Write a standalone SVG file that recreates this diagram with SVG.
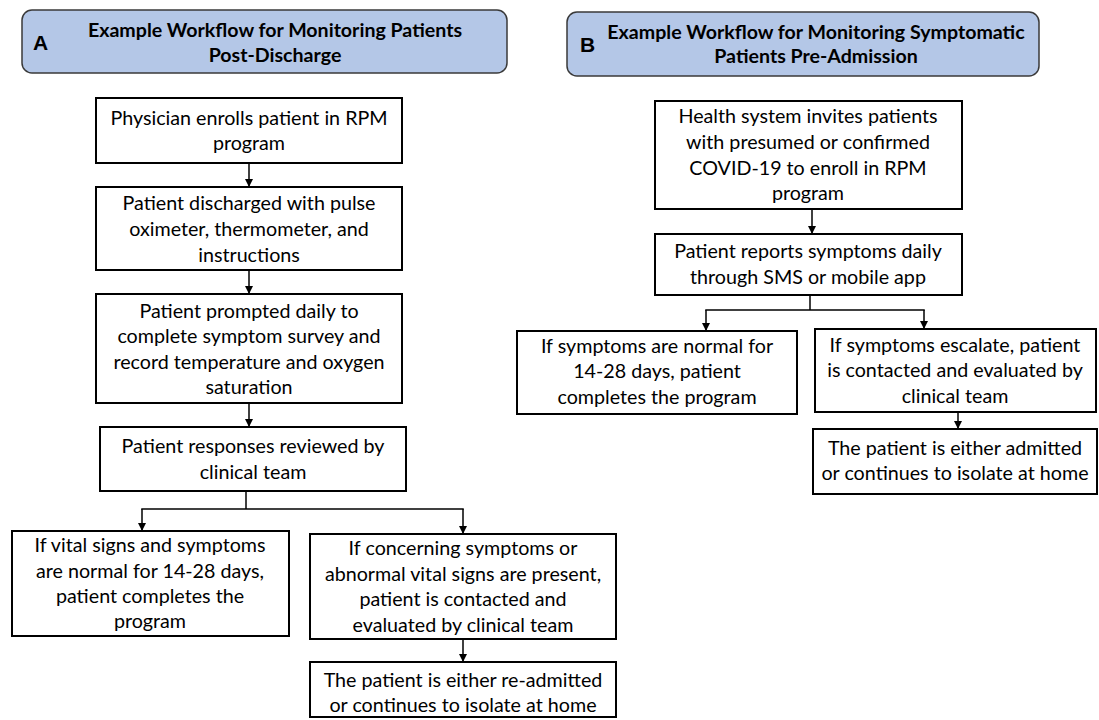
<svg xmlns="http://www.w3.org/2000/svg" width="1099" height="720" viewBox="0 0 1099 720">
<style>
  .hdr { fill: #b4c7e7; stroke: #3a3a3a; stroke-width: 1.5; }
  .box { fill: #ffffff; stroke: #000000; stroke-width: 2; }
  .t { font-family: Lato, "Open Sans", "Liberation Sans", sans-serif; font-size: 19.7px; fill: #000; text-anchor: middle; }
  .ht { font-family: Lato, "Open Sans", "Liberation Sans", sans-serif; font-size: 19.6px; font-weight: bold; fill: #000; text-anchor: middle; }
  .lab { font-family: "Liberation Sans", Arial, sans-serif; font-size: 21px; font-weight: bold; fill: #000; }
  .con { fill: none; stroke: #000; stroke-width: 1.5; }
</style>
<defs>
  <marker id="arr" markerUnits="userSpaceOnUse" markerWidth="10" markerHeight="10" refX="8" refY="4" orient="auto">
    <path d="M0,0 L8,4 L0,8 Z" fill="#000"/>
  </marker>
</defs>
<rect width="1099" height="720" fill="#ffffff"/>

<g id="headerA">
  <rect class="hdr" x="22" y="10" width="485" height="63" rx="10"/>
  <text class="lab" x="33" y="50">A</text>
  <text class="ht" x="275" y="37">Example Workflow for Monitoring Patients</text>
  <text class="ht" x="275" y="62">Post-Discharge</text>
</g>
<g id="headerB">
  <rect class="hdr" x="567" y="12" width="472" height="64" rx="10"/>
  <text class="lab" x="580" y="52">B</text>
  <text class="ht" x="816" y="39">Example Workflow for Monitoring Symptomatic</text>
  <text class="ht" x="816" y="63">Patients Pre-Admission</text>
</g>

<g id="connectors">
  <line class="con" x1="249" y1="163" x2="249" y2="187" marker-end="url(#arr)"/>
  <line class="con" x1="249" y1="270" x2="249" y2="294" marker-end="url(#arr)"/>
  <line class="con" x1="249" y1="403" x2="249" y2="427" marker-end="url(#arr)"/>
  <line class="con" x1="246" y1="491" x2="246" y2="509"/>
  <line class="con" x1="141.25" y1="509" x2="463.75" y2="509"/>
  <line class="con" x1="142" y1="509" x2="142" y2="531" marker-end="url(#arr)"/>
  <line class="con" x1="463" y1="509" x2="463" y2="534" marker-end="url(#arr)"/>
  <line class="con" x1="463" y1="639" x2="463" y2="662" marker-end="url(#arr)"/>

  <line class="con" x1="812" y1="209" x2="812" y2="234" marker-end="url(#arr)"/>
  <line class="con" x1="810" y1="295" x2="810" y2="310"/>
  <line class="con" x1="705.25" y1="310" x2="924.75" y2="310"/>
  <line class="con" x1="706" y1="310" x2="706" y2="331" marker-end="url(#arr)"/>
  <line class="con" x1="924" y1="310" x2="924" y2="329" marker-end="url(#arr)"/>
  <line class="con" x1="958" y1="412" x2="958" y2="429" marker-end="url(#arr)"/>
</g>

<g id="a1">
  <rect class="box" x="96" y="98" width="306" height="65"/>
  <text class="t" x="249" y="125">Physician enrolls patient in RPM</text>
  <text class="t" x="249" y="150">program</text>
</g>
<g id="a2">
  <rect class="box" x="96" y="187" width="306" height="83"/>
  <text class="t" x="249" y="210">Patient discharged with pulse</text>
  <text class="t" x="249" y="236">oximeter, thermometer, and</text>
  <text class="t" x="249" y="262">instructions</text>
</g>
<g id="a3">
  <rect class="box" x="96" y="294" width="306" height="109"/>
  <text class="t" x="249" y="318">Patient prompted daily to</text>
  <text class="t" x="249" y="343">complete symptom survey and</text>
  <text class="t" x="249" y="369">record temperature and oxygen</text>
  <text class="t" x="249" y="394">saturation</text>
</g>
<g id="a4">
  <rect class="box" x="100" y="427" width="306" height="64"/>
  <text class="t" x="253" y="453">Patient responses reviewed by</text>
  <text class="t" x="253" y="479">clinical team</text>
</g>
<g id="a5">
  <rect class="box" x="12" y="531" width="277" height="105"/>
  <text class="t" x="150" y="552">If vital signs and symptoms</text>
  <text class="t" x="150" y="578">are normal for 14-28 days,</text>
  <text class="t" x="150" y="603">patient completes the</text>
  <text class="t" x="150" y="628">program</text>
</g>
<g id="a6">
  <rect class="box" x="310" y="534" width="306" height="105"/>
  <text class="t" x="463" y="555">If concerning symptoms or</text>
  <text class="t" x="463" y="581">abnormal vital signs are present,</text>
  <text class="t" x="463" y="606">patient is contacted and</text>
  <text class="t" x="463" y="632">evaluated by clinical team</text>
</g>
<g id="a7">
  <rect class="box" x="310" y="662" width="306" height="55"/>
  <text class="t" x="463" y="687">The patient is either re-admitted</text>
  <text class="t" x="463" y="712">or continues to isolate at home</text>
</g>

<g id="b1">
  <rect class="box" x="655" y="101" width="307" height="108"/>
  <text class="t" x="808" y="123">Health system invites patients</text>
  <text class="t" x="808" y="149">with presumed or confirmed</text>
  <text class="t" x="808" y="175">COVID-19 to enroll in RPM</text>
  <text class="t" x="808" y="200">program</text>
</g>
<g id="b2">
  <rect class="box" x="655" y="234" width="307" height="61"/>
  <text class="t" x="808" y="258">Patient reports symptoms daily</text>
  <text class="t" x="808" y="284">through SMS or mobile app</text>
</g>
<g id="b3">
  <rect class="box" x="517" y="331" width="280" height="83"/>
  <text class="t" x="657" y="353">If symptoms are normal for</text>
  <text class="t" x="657" y="378">14-28 days, patient</text>
  <text class="t" x="657" y="404">completes the program</text>
</g>
<g id="b4">
  <rect class="box" x="815" y="329" width="281" height="83"/>
  <text class="t" x="955" y="352">If symptoms escalate, patient</text>
  <text class="t" x="955" y="377">is contacted and evaluated by</text>
  <text class="t" x="955" y="403">clinical team</text>
</g>
<g id="b5">
  <rect class="box" x="813" y="429" width="284" height="65"/>
  <text class="t" x="955" y="455">The patient is either admitted</text>
  <text class="t" x="955" y="480">or continues to isolate at home</text>
</g>
</svg>
